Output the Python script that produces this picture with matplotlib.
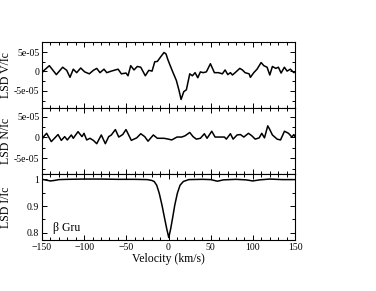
import matplotlib
matplotlib.use("Agg")
import matplotlib.pyplot as plt
from matplotlib.ticker import MultipleLocator, FixedLocator
import numpy as np

plt.rcParams['font.family'] = ['Liberation Serif', 'DejaVu Serif']

# Stokes V (en unidades de 1e-5)
vel_v = [-150, -148.5, -141.3, -133, -125.5, -120.7, -116.8, -112.9, -108.9, -104.1,
         -99.4, -93.9, -89.1, -85.1, -81.2, -76.5, -73.2, -67.8, -59.8, -55.9,
         -50.4, -48, -44.8, -40.9, -37, -32.9, -27.5, -23.4, -19.5, -16.3,
         -13.2, -9.2, -5.3, -2.9, -1.0, 1.5, 5.4, 9.3, 12.5, 14.9,
         18.1, 21.2, 25.2, 28.3, 31.5, 34.7, 37.8, 41.0, 44.9, 49.7,
         54.4, 59.2, 63.9, 67.1, 70.3, 73.4, 75.8, 79, 84.5, 87.6,
         90.8, 95.6, 97.1, 101.1, 105, 109.8, 113, 116.9, 120.1, 123.2,
         127.2, 130.3, 133.5, 137.4, 140.6, 144.5, 148.6, 150]
stokes_v = [-0.4, 0.1, 1.5, -0.8, 1.1, 0.3, -1.5, 0.6, -0.3, 0.9,
            -0.1, -0.6, 0.3, 0.8, -0.3, 0.6, -0.3, 0.1, 0.6, -0.6,
            -0.4, -1.1, 1.5, 0.4, 1.3, 1.1, -1.1, 0.3, 0.1, 2.5,
            2.6, 3.8, 4.9, 4.5, 3.2, 1.8, -0.3, -2.3, -4.9, -7.2,
            -5.2, -4.7, -0.6, -1.1, -0.3, -1.6, -0.1, -0.3, -0.1, 2.0,
            -0.3, -0.3, -0.6, 0.4, -0.8, -0.3, -0.9, -0.3, 0.8, 0.4,
            -0.3, -0.6, -1.5, -0.3, 0.6, 2.3, 1.5, 1.1, -0.9, 1.3,
            0.8, 1.1, -0.4, 1.1, 0.1, 0.6, -0.3, -0.1]

# perfil nulo N (en unidades de 1e-5)
vel_n = [-150, -148.5, -144.5, -139, -131, -127.1, -123.1, -120, -115.2, -112.9,
         -107.3, -102.6, -100.2, -97, -93.1, -89.1, -85.1, -79.7, -74.9, -70.9,
         -67.8, -63.0, -59.0, -54.3, -50.4, -44.1, -37.7, -32.9, -28.2, -24.3,
         -18, -13.2, -5.3, -0.2, 3.8, 10.1, 15.7, 19.6, 25.2, 29.1,
         33.0, 37.8, 42.5, 45.7, 51.3, 55.2, 61.5, 66.3, 68.6, 73.4,
         76.6, 81.3, 85.3, 89.3, 94.8, 98.8, 102.8, 107.5, 110.6, 113.8,
         117.7, 120.1, 123.2, 128.8, 132.8, 137.5, 142.3, 146.3, 148.6, 150]
nulo_n = [-0.6, 0.1, 1.0, -1.0, 0.7, -0.7, 0.2, -0.6, 0.6, -0.2,
          1.4, 0.2, 1.0, -0.6, -0.2, -0.7, -1.5, 0.6, -1.5, 0.2,
          0.6, 1.9, 0.1, 0.7, 1.9, -0.7, -0.1, 0.9, 0.2, -0.9,
          0.6, -0.2, -0.2, -0.4, -0.6, 0.1, 0.1, 0.4, 1.2, 0.2,
          -0.4, -0.2, 0.9, -0.2, 1.5, 0.1, 0.1, 0.1, -0.4, 0.9,
          -0.4, 0.6, 0.7, 0.1, 1.0, 0.4, -0.4, -0.1, 1.0, -0.1,
          2.8, 1.9, 0.6, -0.4, -0.6, 1.5, 1.0, 0.1, 0.7, 0.2]

# perfil de intensidad I/Ic
vel_i = [-150, -145, -140, -135, -130, -120, -100, -80, -60, -40,
         -25, -20, -17, -14, -11, -7.7, -4.5, -2.1, 0.3, 2.6,
         5, 7.4, 10.5, 13.7, 17.6, 24, 40, 50, 58, 65,
         80, 92, 100, 108, 120, 135, 150]
intens_i = [1.0, 0.997, 0.994, 0.996, 0.999, 1.0, 1.001, 1.001, 1.0, 1.0,
            0.999, 0.996, 0.992, 0.978, 0.948, 0.903, 0.852, 0.815, 0.782, 0.815,
            0.858, 0.903, 0.948, 0.978, 0.992, 0.999, 1.0, 0.999, 0.993, 0.998,
            1.0, 0.998, 0.994, 0.998, 1.001, 0.999, 0.999]

fig = plt.figure(figsize=(3.76, 2.91), dpi=100)

izq, ancho = 0.1117, 0.6729
ax_v = fig.add_axes([izq, 0.6289, ancho, 0.2268])
ax_n = fig.add_axes([izq, 0.4021, ancho, 0.2268])
ax_i = fig.add_axes([izq, 0.1753, ancho, 0.2268])

ax_v.plot(vel_v, np.array(stokes_v) * 1e-5, color="black", lw=1.1)
ax_n.plot(vel_n, np.array(nulo_n) * 1e-5, color="black", lw=1.1)
ax_i.plot(vel_i, intens_i, color="black", lw=1.1)

ax_v.set_ylim(-9.4e-5, 7.6e-5)
ax_n.set_ylim(-8.8e-5, 7.1e-5)
ax_i.set_ylim(0.773, 1.02)

for ax in (ax_v, ax_n):
    ax.yaxis.set_major_locator(FixedLocator([-5e-5, 0, 5e-5]))
    ax.set_yticklabels(["-5e-05", "0", "5e-05"])
    ax.yaxis.set_minor_locator(MultipleLocator(2.5e-5))

ax_i.yaxis.set_major_locator(FixedLocator([0.8, 0.9, 1.0]))
ax_i.set_yticklabels(["0.8", "0.9", "1"])
ax_i.yaxis.set_minor_locator(MultipleLocator(0.05))

for ax in (ax_v, ax_n, ax_i):
    ax.set_xlim(-150, 150)
    ax.xaxis.set_major_locator(MultipleLocator(50))
    ax.xaxis.set_minor_locator(MultipleLocator(10))
    ax.tick_params(which="both", direction="in", top=True, right=True,
                   labelsize=7, pad=2, width=0.7)
    ax.tick_params(which="major", length=3.5)
    ax.tick_params(which="minor", length=2)
    for s in ax.spines.values():
        s.set_linewidth(0.8)

ax_v.tick_params(labelbottom=False)
ax_n.tick_params(labelbottom=False)

ax_v.set_ylabel("LSD V/Ic", fontsize=8.5)
ax_n.set_ylabel("LSD N/Ic", fontsize=8.5)
ax_i.set_ylabel("LSD I/Ic", fontsize=8.5)
for ax in (ax_v, ax_n, ax_i):
    ax.yaxis.set_label_coords(-0.118, 0.5)
ax_i.set_xlabel("Velocity (km/s)", fontsize=8.5, labelpad=1)

ax_i.text(-137, 0.806, "β Gru", fontsize=8.5, va="baseline")

fig.savefig("out.png", dpi=100)
